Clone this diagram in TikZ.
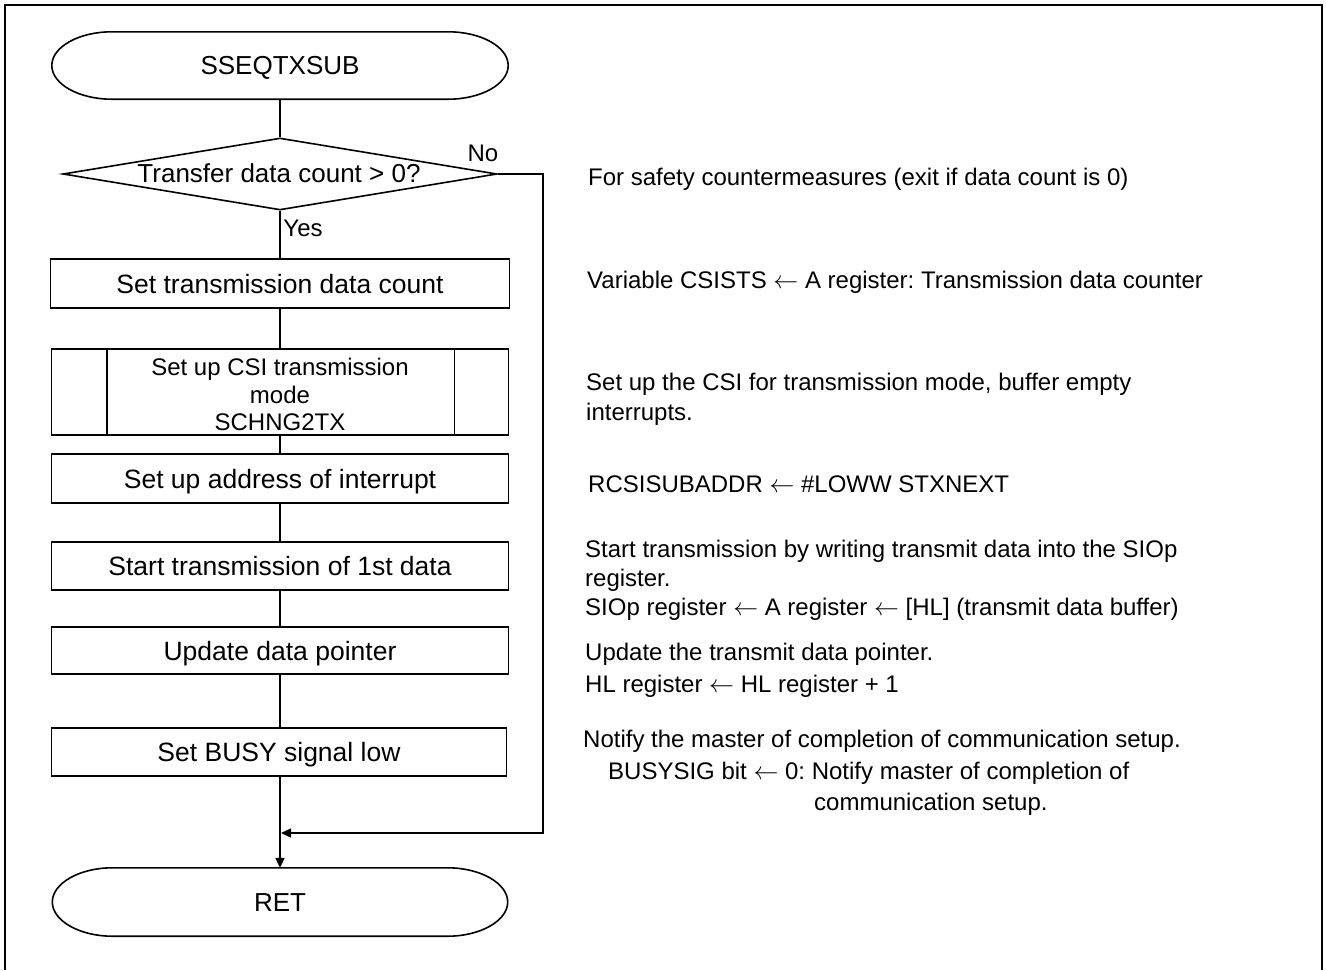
\documentclass[tikz,border=0pt]{standalone}
\usepackage{fontspec}
\setmainfont{Liberation Sans}
\frenchspacing
\usetikzlibrary{shapes.geometric,arrows.meta}
\newcommand\larr{\ensuremath{\leftarrow}}
\newcommand\termpath[1]{%
  \draw[shapeline] ([xshift=60pt]#1.north west) -- ([xshift=-60pt]#1.north east)
    .. controls ([xshift=-26.9pt]#1.north east) and ([yshift=18.5pt]#1.east) .. (#1.east)
    .. controls ([yshift=-18.5pt]#1.east) and ([xshift=-26.9pt]#1.south east) .. ([xshift=-60pt]#1.south east)
    -- ([xshift=60pt]#1.south west)
    .. controls ([xshift=26.9pt]#1.south west) and ([yshift=-18.5pt]#1.west) .. (#1.west)
    .. controls ([yshift=18.5pt]#1.west) and ([xshift=26.9pt]#1.north west) .. ([xshift=60pt]#1.north west)
    -- cycle;}
\begin{document}
\begin{tikzpicture}[x=1pt,y=-1pt,
  shapeline/.style={draw=black,line width=1.6pt},
  conn/.style={draw=black,line width=2pt},
  thinconn/.style={draw=black,line width=1.4pt},
  tip/.style={-{Triangle[length=10pt,width=9pt]}},
  termnode/.style={minimum width=456pt,minimum height=67pt,inner sep=0pt,
    font=\fontsize{26}{30}\selectfont,text height=18.6pt,text depth=0pt},
  procbox/.style={shapeline,minimum width=457pt,minimum height=48pt,inner sep=0pt,
    font=\fontsize{26.5}{30}\selectfont,text height=19pt,text depth=0pt},
  boxtext/.style={inner sep=0pt,font=\fontsize{24}{28}\selectfont,anchor=base},
  note/.style={inner sep=0pt,font=\fontsize{24}{28}\selectfont,anchor=base west},
  lbl/.style={inner sep=0pt,font=\fontsize{24}{28}\selectfont,text height=17.2pt,text depth=0pt}
]
\useasboundingbox (0,0) rectangle (1326,970);
% outer frame
\draw[line width=2pt] (5,970) -- (5,5) -- (1322,5) -- (1322,970);

% flow chart
\node[termnode] (start) at (280,65.5) {SSEQTXSUB};
\termpath{start}

\node[diamond,shapeline,minimum width=434pt,minimum height=72pt,inner sep=0pt,aspect=6] (dec) at (280,174) {};
\node[inner sep=0pt,font=\fontsize{26}{30}\selectfont,text height=18.6pt,text depth=0pt] (dectext) at (279,173) {Transfer data count > 0?};

\node[procbox,minimum width=459pt,minimum height=49pt] (b1) at (280,283.5) {Set transmission data count};
\node[shapeline,minimum width=457pt,minimum height=86pt,inner sep=0pt] (b2) at (280,392) {};
\draw[shapeline] ([xshift=56pt]b2.north west) -- ([xshift=56pt]b2.south west);
\draw[shapeline] ([xshift=-55pt]b2.north east) -- ([xshift=-55pt]b2.south east);
\node[boxtext] (b2t1) at (280,375) {Set up CSI transmission};
\node[boxtext] (b2t2) at (280,403) {mode};
\node[boxtext] (b2t3) at (280,430) {SCHNG2TX};
\node[procbox,minimum height=49pt] (b3) at (280,478.5) {Set up address of interrupt};
\node[procbox] (b4) at (280,566) {Start transmission of 1st data};
\node[procbox,minimum height=47pt] (b5) at (280,650.5) {Update data pointer};
\node[procbox,minimum width=455pt] (b6) at (279,752) {Set BUSY signal low};
\node[termnode,minimum width=455pt,minimum height=68pt] (ret) at (280,902) {RET};
\termpath{ret}

\node[lbl] (nolbl) at (483,153) {No};
\node[lbl] (yeslbl) at (303,228) {Yes};

\coordinate (nocorner) at (543,174);
\coordinate (join) at (281,833);

\draw[conn] (start) -- (dec);
\draw[conn] (dec) -- (b1);
\draw[conn] (b1) -- (b2);
\draw[conn] (b2) -- (b3);
\draw[conn] (b3) -- (b4);
\draw[conn] (b4) -- (b5);
\draw[conn] (b5.south) -- (b5.south |- b6.north);
\draw[conn,tip] (b6.south -| ret.north) -- (ret.north);
\draw[thinconn,tip] (dec.east) -- (nocorner) |- (join);

% comments
\node[note] (c1) at (588,185) {For safety countermeasures (exit if data count is 0)};
\node[note] (c2) at (587,288) {Variable CSISTS \larr{} A register: Transmission data counter};
\node[note] (c3a) at (586,390) {Set up the CSI for transmission mode, buffer empty};
\node[note] (c3b) at (586,420) {interrupts.};
\node[note] (c4) at (588,492) {RCSISUBADDR \larr{} \#LOWW STXNEXT};
\node[note] (c5a) at (585,557) {Start transmission by writing transmit data into the SIOp};
\node[note] (c5b) at (585,586) {register.};
\node[note] (c5c) at (585,615) {SIOp register \larr{} A register \larr{} [HL] (transmit data buffer)};
\node[note] (c6a) at (585,660) {Update the transmit data pointer.};
\node[note] (c6b) at (585,692) {HL register \larr{} HL register + 1};
\node[note] (c7a) at (583,747) {Notify the master of completion of communication setup.};
\node[note] (c7b) at (608,779) {BUSYSIG bit \larr{} 0: Notify master of completion of};
\node[note] (c7c) at (814,810) {communication setup.};
\end{tikzpicture}
\end{document}
